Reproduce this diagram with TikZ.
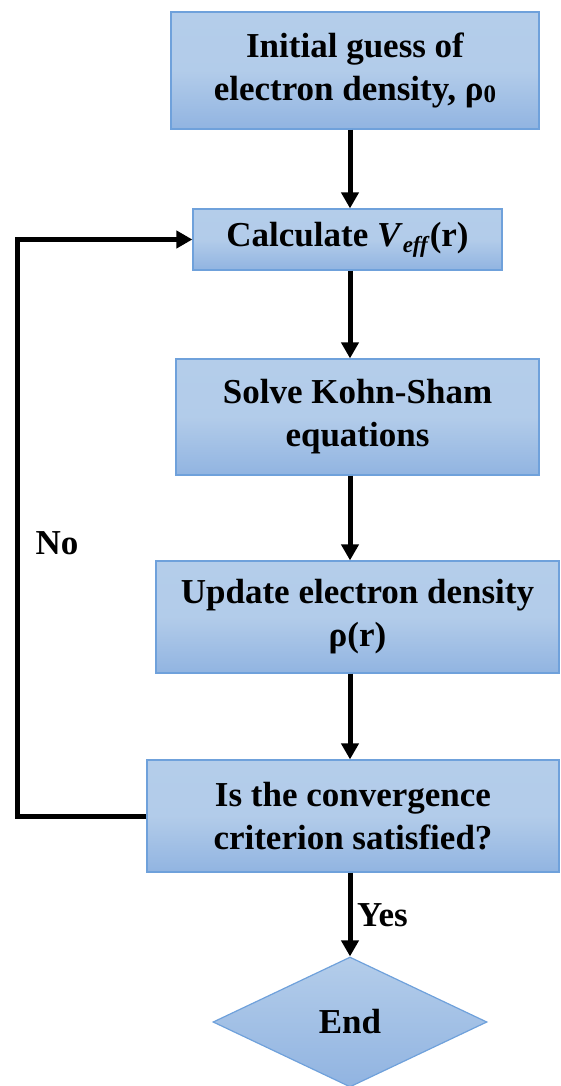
\documentclass[tikz,border=0pt]{standalone}
\usepackage{fontspec}
\setmainfont{Liberation Serif}
\newfontfamily\tnr{Liberation Serif}
\usetikzlibrary{arrows.meta,shapes.geometric}
\definecolor{boxtop}{HTML}{B4CDEA}
\definecolor{boxbot}{HTML}{91B4E1}
\definecolor{boxedge}{HTML}{6FA1DB}
\tikzset{
  flowbox/.style={draw=boxedge, line width=1.2pt, top color=boxtop, bottom color=boxbot,
    middle color=boxtop!95!boxbot, rectangle, inner sep=0pt, align=center,
    font=\tnr\fontsize{35}{43}\selectfont\bfseries},
  endbox/.style={draw=boxedge, line width=1.2pt, top color=boxtop, bottom color=boxbot,
    diamond, inner sep=0pt, align=center, font=\tnr\fontsize{35}{43}\selectfont\bfseries},
  flowarrow/.style={line width=5pt, line join=miter, -{Triangle[length=16pt,width=17pt]}},
  lbl/.style={font=\tnr\fontsize{35}{43}\selectfont\bfseries, inner sep=0pt}
}
\begin{document}
\begin{tikzpicture}[x=1pt,y=-1pt]
\useasboundingbox (0,0) rectangle (560,1086);
\node[flowbox, minimum width=368pt, minimum height=117pt] (init) at (355,70.5)
  {Initial guess of\\electron density, ρ\raisebox{-0.15ex}{\fontsize{25}{25}\selectfont 0}};
\node[flowbox, minimum width=309pt, minimum height=61pt] (veff) at (347.5,239.5)
  {Calculate \textit{V}\raisebox{-0.35ex}{\fontsize{23}{23}\selectfont\textit{eff}}(r)};
\node[flowbox, minimum width=363pt, minimum height=116pt] (ks) at (357.5,417)
  {Solve Kohn-Sham\\equations};
\node[flowbox, minimum width=403pt, minimum height=112pt] (upd) at (357.5,617)
  {Update electron density\\ρ(r)};
\node[flowbox, minimum width=412pt, minimum height=112pt] (conv) at (353,816)
  {Is the convergence\\criterion satisfied?};
\node[endbox, minimum width=274pt, minimum height=130pt] (end) at (350,1022) {End};
\coordinate (loopx) at (17,540);
\draw[flowarrow] (init.south -| 350,0) -- (veff.north -| 350,0);
\draw[flowarrow] (veff.south -| 350,0) -- (ks.north -| 350,0);
\draw[flowarrow] (ks.south -| 350,0) -- (upd.north -| 350,0);
\draw[flowarrow] (upd.south -| 350,0) -- (conv.north -| 350,0);
\draw[flowarrow] (conv.south -| 350,0) -- (end.north);
\draw[flowarrow] (conv.west) -- (conv.west -| loopx) |- (veff.west);
\node[lbl, anchor=west] (yes) at (357,915) {Yes};
\node[lbl] (no) at (57,543) {No};
\end{tikzpicture}
\end{document}
